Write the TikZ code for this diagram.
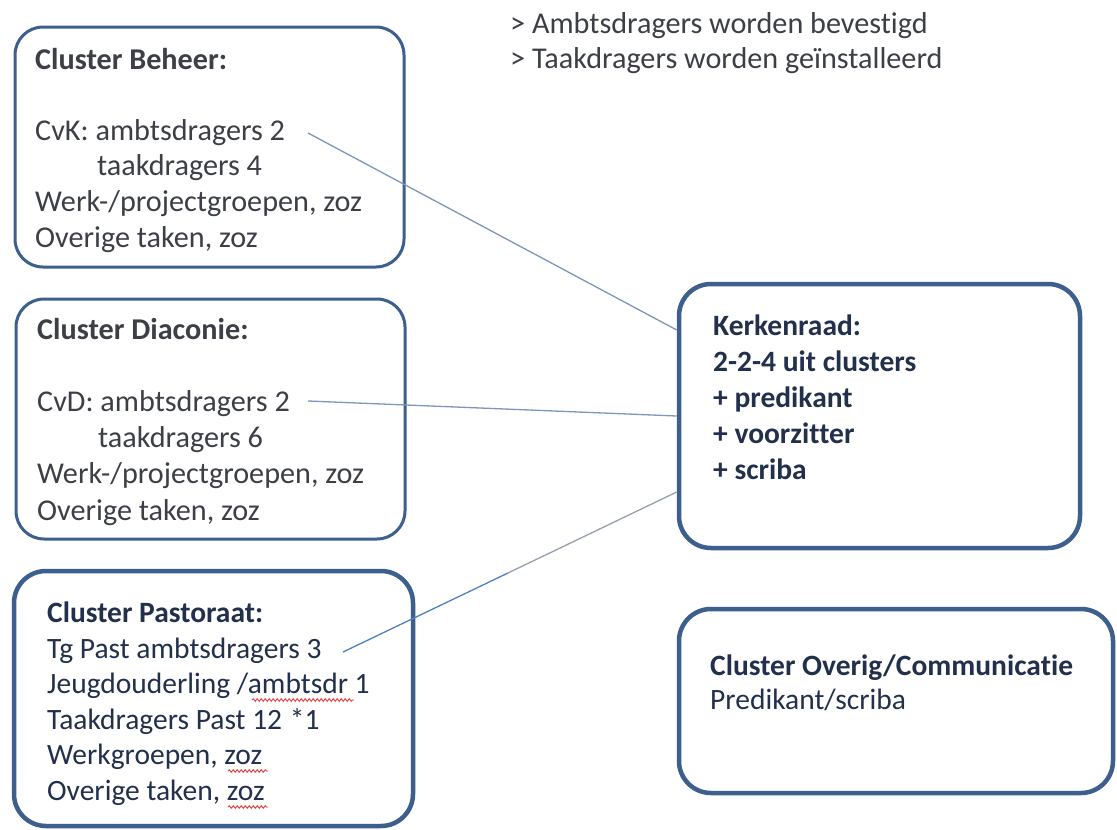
\documentclass[tikz,border=0pt]{standalone}
\usepackage{fontspec}
\setmainfont[Ligatures={NoCommon}]{Carlito}
\usetikzlibrary{decorations.pathmorphing}
\definecolor{bordercol}{RGB}{60,95,142}
\definecolor{linecol}{RGB}{125,150,185}
\definecolor{linecolb}{RGB}{79,129,189}
\definecolor{linecolg}{RGB}{150,160,175}
\definecolor{greytext}{RGB}{60,63,70}
\definecolor{navytext}{RGB}{34,48,76}
\definecolor{spellred}{RGB}{230,60,60}
\tikzset{
  clusterbox/.style={draw=bordercol, line width=3pt, rounded corners=28pt, fill=white, inner sep=0pt},
  heavybox/.style={clusterbox, line width=4.5pt, rounded corners=32pt},
  blocktext/.style={anchor=base west, align=left, inner sep=0pt, font=\fontsize{29.5}{35.6}\selectfont},
  bigtext/.style={blocktext, font=\fontsize{30.2}{35.6}\selectfont},
  connector/.style={draw=linecol, line width=1.3pt},
  wavy/.style={draw=spellred, line width=0.9pt, decorate, decoration={snake, amplitude=1.3pt, segment length=4pt}}
}
\begin{document}
\begin{tikzpicture}[x=1pt, y=-1pt]
\useasboundingbox (0,0) rectangle (1117,830);
\fill[white] (0,0) rectangle (1117,830);

% boxes
\node[clusterbox, minimum width=389pt, minimum height=240pt] (beheer) at (209.5,147) {};
\node[clusterbox, minimum width=389pt, minimum height=240pt] (diaconie) at (210.5,419) {};
\node[heavybox, minimum width=399pt, minimum height=255pt] (pastoraat) at (213.5,698.5) {};
\node[heavybox, minimum width=401pt, minimum height=264pt] (kerkenraad) at (879.5,416) {};
\node[heavybox, minimum width=434pt, minimum height=184pt] (overig) at (896,701) {};

% texts (anchor = baseline of the last line)
\node[bigtext, text=greytext, font=\fontsize{30.2}{35}\selectfont] (toptext) at (510,68)
  {> Ambtsdragers worden bevestigd\\> Taakdragers worden geïnstalleerd};

\node[bigtext, text=greytext] (beheertxt) at (35,247)
  {\textbf{Cluster Beheer:}\\[35.6pt]CvK: ambtsdragers 2\\\hspace*{62pt}taakdragers 4\\Werk-/projectgroepen, zoz\\Overige taken, zoz};

\node[bigtext, text=greytext, font=\fontsize{30.2}{36.2}\selectfont] (diacotxt) at (37,520)
  {\textbf{Cluster Diaconie:}\\[36.2pt]CvD: ambtsdragers 2\\\hspace*{61pt}taakdragers 6\\Werk-/projectgroepen, zoz\\Overige taken, zoz};

\node[blocktext, text=navytext] (pastotxt) at (47,800.5)
  {\textbf{Cluster Pastoraat:}\\Tg Past ambtsdragers 3\\Jeugdouderling /ambtsdr 1\\Taakdragers Past 12 \kern1pt*1\\Werkgroepen, zoz\\Overige taken, zoz};

\node[blocktext, text=navytext, font=\fontsize{29.5}{35.8}\selectfont\bfseries] (kerktxt) at (713,479)
  {Kerkenraad:\\2-2-4 uit clusters\\+ predikant\\+ voorzitter\\+ scriba};

\node[blocktext, text=navytext, font=\fontsize{29.5}{33.5}\selectfont] (overigtxt) at (710,709)
  {\textbf{Cluster Overig/Communicatie}\\Predikant/scriba};

% spell-check underlines
\draw[wavy] (252,700) -- (354,700);
\draw[wavy] (228,771) -- (268,771);
\draw[wavy] (228,807) -- (268,807);

% connector anchors
\coordinate (cvk) at (308,133);
\coordinate (cvd) at (308,401);
\coordinate (tgpast) at (343,652);
\coordinate (kink) at (508,573);
\coordinate (k1) at (kerkenraad.west |- 0,330);
\coordinate (k2) at (kerkenraad.west |- 0,416);
\coordinate (k3) at (kerkenraad.west |- 0,492);

\draw[connector] (cvk) -- (k1);
\draw[connector] (cvd) -- (k2);
\draw[connector, draw=linecolb] (tgpast) -- (kink);
\draw[connector, draw=linecolg] (kink) -- (k3);
\end{tikzpicture}
\end{document}
